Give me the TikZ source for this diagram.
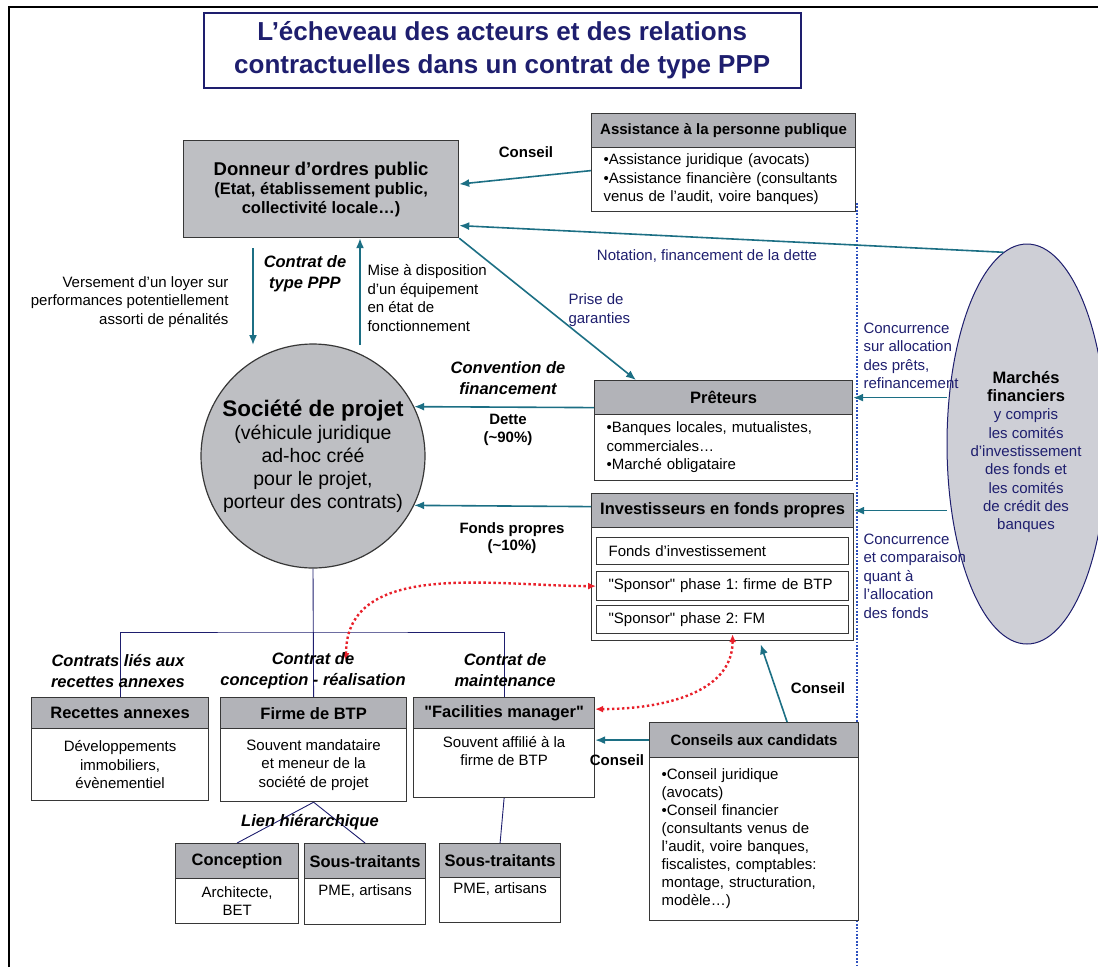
\documentclass[tikz,border=0pt]{standalone}
\usepackage{fontspec}
\setmainfont{Liberation Sans}
\usetikzlibrary{arrows.meta,shapes.geometric}
\frenchspacing

\definecolor{navy}{RGB}{30,30,110}
\definecolor{flowteal}{RGB}{28,111,132}
\definecolor{hdrgray}{RGB}{178,179,184}
\definecolor{dongray}{RGB}{190,191,195}
\definecolor{mfgray}{RGB}{206,207,214}
\definecolor{sepblue}{RGB}{45,80,190}
\definecolor{linkred}{RGB}{232,32,42}
\definecolor{boxline}{RGB}{55,55,55}

\tikzset{
  titlebox/.style={draw=navy, line width=1.5pt, fill=white, anchor=north west,
    minimum width=597pt, minimum height=75pt, inner sep=0pt, align=center,
    text=navy, font=\fontsize{26}{33}\selectfont\bfseries},
  hdr/.style={draw=boxline, fill=hdrgray, line width=1.2pt, anchor=north west,
    inner sep=0pt, align=center, font=\fontsize{16.5}{19}\selectfont\bfseries},
  hdrsm/.style={hdr, font=\fontsize{15}{18}\selectfont\bfseries},
  txt/.style={draw=boxline, fill=white, line width=1.2pt, anchor=north west,
    inner sep=0pt, align=center},
  lefttxt/.style={txt, align=left, inner xsep=12pt},
  flow/.style={draw=flowteal, line width=1.6pt, -{Latex[length=10pt,width=8pt]}},
  tree/.style={draw=navy, line width=0.9pt},
  redlink/.style={draw=linkred, line width=2.4pt, dash pattern=on 2.4pt off 2.6pt,
    {Latex[length=8pt,width=7pt]}-{Latex[length=8pt,width=7pt]}},
  sepline/.style={draw=sepblue, line width=1.8pt, dash pattern=on 1.8pt off 1.6pt},
  contract/.style={align=center, font=\fontsize{16.5}{21}\selectfont\bfseries\itshape},
  boldnote/.style={align=center, font=\fontsize{15}{17.5}\selectfont\bfseries},
  navytext/.style={text=navy}
}

\begin{document}
\begin{tikzpicture}[x=1pt, y=-1pt, font=\fontsize{15}{18.5}\selectfont]
  \useasboundingbox (0,0) rectangle (1098,967);

  % frame of the slide
  \draw[line width=2.5pt] (9,967) -- (9,7) -- (1098,7);

  % Title
  \node[titlebox] (title) at (203,12) {L’écheveau des acteurs et des relations\\contractuelles dans un contrat de type PPP};

  % Public side
  \node[hdr, fill=dongray, minimum width=275pt, minimum height=97pt] (don) at (183,140)
    {{\fontsize{18.5}{22}\selectfont Donneur d’ordres public}\\(Etat, établissement public,\\collectivité locale…)};
  \node[hdrsm, minimum width=264pt, minimum height=34pt] (ash) at (591,113) {Assistance à la personne publique};
  \node[lefttxt, minimum width=264pt, minimum height=64pt, text width=240pt] (asb) at (591,147)
    {•Assistance juridique (avocats)\\•Assistance financière (consultants\\venus de l’audit, voire banques)};

  % Project company and financing
  \node[circle, draw=boxline, fill=dongray, line width=1.2pt, minimum size=224pt, inner sep=0pt,
    align=center, font=\fontsize{19.5}{23}\selectfont] (soc) at (313,456)
    {{\fontsize{22.5}{26}\selectfont\bfseries Société de projet}\\(véhicule juridique\\ad-hoc créé\\pour le projet,\\porteur des contrats)};
  \node[hdr, minimum width=258pt, minimum height=34pt] (preth) at (594,380) {Prêteurs};
  \node[lefttxt, minimum width=258pt, minimum height=66pt, text width=234pt] (pretb) at (594,414)
    {•Banques locales, mutualistes,\\commerciales…\\•Marché obligataire};
  \node[txt, minimum width=262pt, minimum height=147pt] (inv) at (591,493) {};
  \node[hdr, minimum width=262pt, minimum height=34pt] (invh) at (591,493) {Investisseurs en fonds propres};
  \node[lefttxt, minimum width=252pt, minimum height=27pt, text width=228pt] (fi) at (596,537) {Fonds d’investissement};
  \node[lefttxt, minimum width=252pt, minimum height=29pt, text width=228pt] (sp1) at (596,571) {\textquotedbl Sponsor\textquotedbl{} phase 1: firme de BTP};
  \node[lefttxt, minimum width=252pt, minimum height=28pt, text width=228pt] (sp2) at (596,605) {\textquotedbl Sponsor\textquotedbl{} phase 2: FM};

  % Financial markets
  \node[ellipse, draw=navy, fill=mfgray, line width=1pt, minimum width=160pt, minimum height=400pt] (mf) at (1027,444) {};
  \node[navytext, align=center, font=\fontsize{15}{18.3}\selectfont] (mftext) at (1026,452)
    {\textcolor{black}{\fontsize{16.5}{20}\selectfont\bfseries Marchés}\\\textcolor{black}{\fontsize{16.5}{20}\selectfont\bfseries financiers}\\y compris\\les comités\\d’investissement\\des fonds et\\les comités\\de crédit des\\banques};
  \coordinate (sepTop) at (857,203);
  \coordinate (sepBot) at (857,967);
  \draw[sepline] (sepTop) -- (sepBot);

  % Contractors
  \node[hdr, minimum width=177pt, minimum height=31pt] (recth) at (31,697) {Recettes annexes};
  \node[txt, minimum width=177pt, minimum height=72pt] (rectb) at (31,728) {Développements\\immobiliers,\\évènementiel};
  \node[hdr, minimum width=186pt, minimum height=31pt] (firmh) at (220,697) {Firme de BTP};
  \node[txt, minimum width=186pt, minimum height=73pt] (firmb) at (220,728) {Souvent mandataire\\et meneur de la\\société de projet};
  \node[hdr, minimum width=181pt, minimum height=31pt] (fmh) at (413,697) {\textquotedbl Facilities manager\textquotedbl};
  \node[txt, minimum width=181pt, minimum height=69pt] (fmb) at (413,728) {Souvent affilié à la\\firme de BTP\\ \strut};
  \node[hdrsm, minimum width=209pt, minimum height=35pt] (cch) at (649,722) {Conseils aux candidats};
  \node[lefttxt, minimum width=209pt, minimum height=163pt, text width=185pt, font=\fontsize{15}{18}\selectfont] (ccb) at (649,757)
    {•Conseil juridique\\(avocats)\\•Conseil financier\\(consultants venus de\\l’audit, voire banques,\\fiscalistes, comptables:\\montage, structuration,\\modèle…)};
  \node[hdr, minimum width=123pt, minimum height=35pt] (conch) at (175,843) {Conception};
  \node[txt, minimum width=123pt, minimum height=45pt] (concb) at (175,878) {Architecte,\\BET};
  \node[hdr, minimum width=121pt, minimum height=35pt] (st1h) at (304,843) {Sous-traitants};
  \node[txt, minimum width=121pt, minimum height=46pt] (st1b) at (304,878) {PME, artisans\\ \strut};
  \node[hdr, minimum width=121pt, minimum height=34pt] (st2h) at (439,843) {Sous-traitants};
  \node[txt, minimum width=121pt, minimum height=45pt] (st2b) at (439,877) {PME, artisans\\ \strut};

  % Contract tree
  \coordinate (branch) at (313,632);
  \draw[tree] (soc.south) -- (firmh.north);
  \draw[tree] (recth.north) |- (branch) -| (fmh.north);
  \draw[tree] (firmb.south) -- (conch.north);
  \draw[tree] (firmb.south) -- (st1h.north);
  \draw[tree] (fmb.south) -- (st2h.north);

  % Flows
  \draw[flow] ([yshift=9pt]asb.west) -- ([yshift=5pt]don.east);
  \draw[flow] (mf.97) -- ([yshift=-36.5pt]don.east);
  \draw[flow] (don.south east) -- ([xshift=42pt]preth.north west);
  \coordinate (payTop) at (253,248);
  \coordinate (payBot) at (253,345);
  \draw[flow] (payTop) -- (payBot);
  \coordinate (useBot) at (360,345);
  \draw[flow] (useBot) -- (useBot |- don.south);
  \draw[flow] ([yshift=-10pt]preth.west) -- (soc.26);
  \draw[flow] ([yshift=4pt]invh.west) -- (soc.-26);
  \draw[flow] (preth.east -| mf.west) -- (preth.east);
  \draw[flow] (invh.east -| mf.west) -- (invh.east);
  \draw[flow] (cch.west) -- (cch.west -| fmb.east);
  \draw[flow] ([xshift=33pt]cch.north) -- ([xshift=38pt,yshift=-3pt]inv.south);

  % Sponsor links
  \coordinate (rdA) at (346,661);
  \draw[redlink] (rdA) to[out=90, in=180] (sp1.west);
  \draw[redlink] ([xshift=10pt]sp2.south) to[out=-90, in=0] ([yshift=4pt]fmh.east);

  % Labels
  \node[boldnote] (cons1) at (526,152) {Conseil};
  \node[navytext] (notation) at (707,256) {Notation, financement de la dette};
  \node[navytext, anchor=west, align=left] (garanties) at (565,310) {Prise de\\garanties};
  \node[contract] (ppp) at (305,274) {Contrat de\\type PPP};
  \node[anchor=east, align=right] (loyer) at (232,302) {Versement d’un loyer sur\\performances potentiellement\\assorti de pénalités};
  \node[anchor=west, align=left] (dispo) at (364,298) {Mise à disposition\\d’un équipement\\en état de\\fonctionnement};
  \node[contract] (convention) at (508,378) {Convention de\\financement};
  \node[boldnote] (dette) at (508,430) {Dette\\(\textasciitilde90\%)};
  \node[boldnote] (fonds) at (512,538) {Fonds propres\\(\textasciitilde10\%)};
  \node[navytext, anchor=west, align=left] (concA) at (860,356) {Concurrence\\sur allocation\\des prêts,\\refinancement};
  \node[navytext, anchor=west, align=left] (concB) at (860,576) {Concurrence\\et comparaison\\quant à\\l’allocation\\des fonds};
  \node[contract] (cRec) at (118,671) {Contrats liés aux\\recettes annexes};
  \node[contract] (cCon) at (313,671) {Contrat de\\conception - réalisation};
  \node[contract] (cMai) at (505,670) {Contrat de\\maintenance};
  \node[contract] (lien) at (310,822) {Lien hiérarchique};
  \node[boldnote] (cons2) at (617,760) {Conseil};
  \node[boldnote] (cons3) at (818,688) {Conseil};

\end{tikzpicture}
\end{document}
